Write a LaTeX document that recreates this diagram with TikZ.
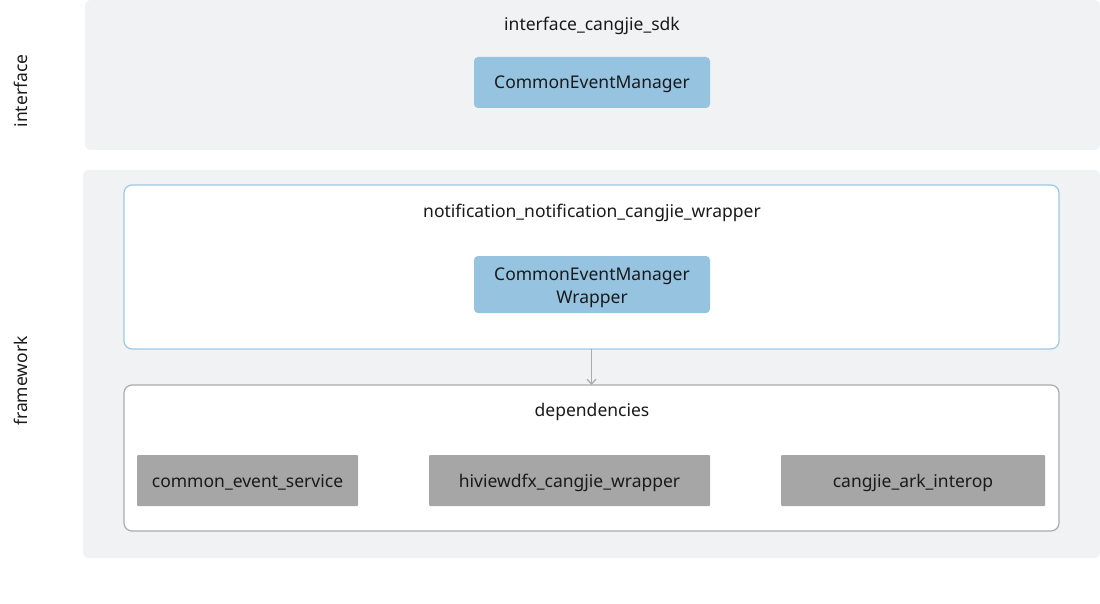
\documentclass[tikz,border=0pt]{standalone}
\usepackage{fontspec}
\setmainfont{Noto Sans}
\usetikzlibrary{arrows.meta}
\definecolor{panel}{HTML}{F1F2F4}
\definecolor{bluebox}{HTML}{95C3E0}
\definecolor{blueline}{HTML}{9DC8E4}
\definecolor{graybox}{HTML}{A6A6A6}
\definecolor{grayline}{HTML}{ABABAB}
\definecolor{txt}{HTML}{1A1A1A}
\tikzset{
  fnt/.style={text=txt, font=\fontsize{17.5}{23}\selectfont},
  oneline/.style={fnt, text height=16pt, text depth=3pt},
  panelbox/.style={fill=panel, draw=none, rounded corners=6pt},
  blue/.style={fill=bluebox, draw=none, rounded corners=4pt, align=center},
  gray/.style={oneline, fill=graybox, draw=none, rounded corners=1pt},
  lbl/.style={oneline},
}
\begin{document}
\begin{tikzpicture}[x=1pt,y=-1pt]
\useasboundingbox (0,0) rectangle (1100,604);
% panels
\path[panelbox] (85,0) rectangle (1100,150);
\path[panelbox] (83,170) rectangle (1100,558);
\node[lbl, rotate=90] (lifc) at (21,91) {interface};
\node[lbl, rotate=90] (lfw) at (21,381) {framework};
\node[lbl] (tsdk) at (592,24) {interface\_cangjie\_sdk};
\node[blue, oneline, minimum width=236pt, minimum height=51pt] (cem) at (592,82.5) {CommonEventManager};
% wrapper container
\draw[draw=blueline, line width=1.2pt, fill=white, rounded corners=8pt] (124,185) rectangle (1059,349);
\coordinate (wb) at (591.5,349);
\node[lbl] (twrap) at (592,211) {notification\_notification\_cangjie\_wrapper};
\node[blue, minimum width=236pt, minimum height=57pt] (cemw) at (592,284.5) {};
\node[fnt, align=center, yshift=-3pt] (cemwt) at (cemw.center) {CommonEventManager\\Wrapper};
% dependencies container
\draw[draw=grayline, line width=1.2pt, fill=white, rounded corners=8pt] (124,385) rectangle (1059,531);
\coordinate (dt) at (591.5,385);
\node[lbl] (tdep) at (592,410) {dependencies};
\node[gray, minimum width=221pt, minimum height=51pt] (ces) at (247.5,480.5) {common\_event\_service};
\node[gray, minimum width=281pt, minimum height=51pt] (hiv) at (569.5,480.5) {hiviewdfx\_cangjie\_wrapper};
\node[gray, minimum width=264pt, minimum height=51pt] (ark) at (913,480.5) {cangjie\_ark\_interop};
\draw[grayline, line width=1.2pt, -{Straight Barb[length=5pt,width=9pt]}] (wb) -- (dt);
\end{tikzpicture}
\end{document}
